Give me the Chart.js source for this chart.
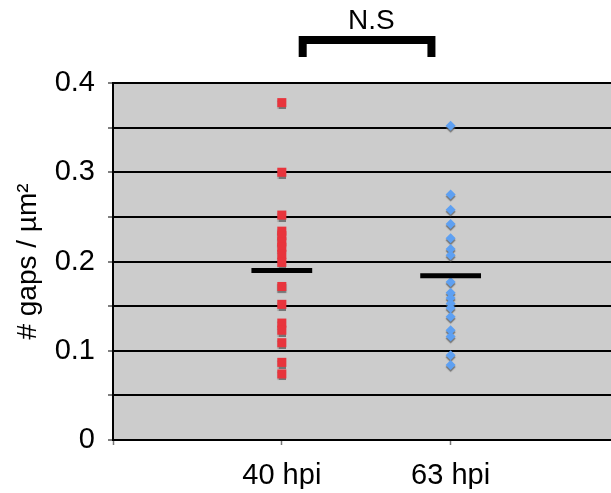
<!DOCTYPE html>
<html>
<head>
<meta charset="utf-8">
<script src="https://cdn.jsdelivr.net/npm/chart.js@4.4.0/dist/chart.umd.min.js"></script>
<style>
  html, body { margin: 0; padding: 0; background: #fff; overflow: hidden; }
  canvas { display: block; }
</style>
</head>
<body>
<canvas id="myChart" width="611" height="493"></canvas>
<script>
// values
const groups = ["40 hpi", "63 hpi"];
const hpi40 = [0.378, 0.300, 0.252, 0.234, 0.229, 0.222, 0.216, 0.208, 0.199,
  0.172, 0.152, 0.131, 0.123, 0.109, 0.087, 0.074];
const hpi63 = [0.352, 0.275, 0.258, 0.242, 0.226, 0.214, 0.207, 0.177, 0.165,
  0.159, 0.153, 0.148, 0.138, 0.123, 0.116, 0.095, 0.084];
const means = [0.190, 0.184];
const yTicks = [0, 0.1, 0.2, 0.3, 0.4];
const sigLabel = "N.S";

const FONT = '"Liberation Sans", Arial, Helvetica, sans-serif';
const MEAN_HALF = 0.18;

const plotBg = {
  id: "plotBg",
  beforeDraw(chart) {
    const { ctx, chartArea: a } = chart;
    ctx.save();
    ctx.fillStyle = "#cccccc";
    ctx.fillRect(a.left, a.top, a.right - a.left, a.bottom - a.top);
    ctx.restore();
  },
};

// grey drop shadow under the markers
const markerShadow = {
  id: "markerShadow",
  beforeDatasetDraw(chart, args) {
    if (!chart.data.datasets[args.index].shadow) return;
    const ctx = chart.ctx;
    ctx.save();
    ctx.shadowColor = "rgba(90,90,90,0.75)";
    ctx.shadowOffsetX = 0;
    ctx.shadowOffsetY = 2;
    ctx.shadowBlur = 1;
  },
  afterDatasetDraw(chart, args) {
    if (!chart.data.datasets[args.index].shadow) return;
    chart.ctx.restore();
  },
};

// significance bracket above the plot
const bracket = {
  id: "bracket",
  afterDraw(chart) {
    const { ctx, chartArea } = chart;
    const x = chart.scales.x;
    const top = chartArea.top;
    const x1 = x.getPixelForValue(1.1);
    const x2 = x.getPixelForValue(1.91);
    ctx.save();
    ctx.strokeStyle = "#000";
    ctx.lineWidth = 8;
    ctx.lineJoin = "miter";
    ctx.lineCap = "butt";
    ctx.beginPath();
    ctx.moveTo(x1 + 4, top - 26);
    ctx.lineTo(x1 + 4, top - 43);
    ctx.lineTo(x2 - 4, top - 43);
    ctx.lineTo(x2 - 4, top - 26);
    ctx.stroke();
    ctx.fillStyle = "#000";
    ctx.font = "28px " + FONT;
    ctx.textAlign = "center";
    ctx.textBaseline = "alphabetic";
    ctx.fillText(sigLabel, x.getPixelForValue(1.53), top - 54.5);
    ctx.restore();
  },
};

const meanLine = (i) => ({
  type: "line",
  data: [
    { x: i + 1 - MEAN_HALF, y: means[i] },
    { x: i + 1 + MEAN_HALF, y: means[i] },
  ],
  borderColor: "#000",
  borderWidth: 5,
  pointRadius: 0,
  order: 0,
});

new Chart(document.getElementById("myChart"), {
  type: "scatter",
  data: {
    datasets: [
      meanLine(0),
      meanLine(1),
      {
        label: groups[0],
        data: hpi40.map((v) => ({ x: 1, y: v })),
        pointStyle: "rect",
        pointRadius: 6.4,
        pointBorderWidth: 0,
        backgroundColor: "#e8343c",
        borderColor: "#e8343c",
        shadow: true,
        order: 1,
      },
      {
        label: groups[1],
        data: hpi63.map((v) => ({ x: 2, y: v })),
        pointStyle: "rectRot",
        pointRadius: 5,
        pointBorderWidth: 0,
        backgroundColor: "#5ea0f2",
        borderColor: "#5ea0f2",
        shadow: true,
        order: 1,
      },
    ],
  },
  options: {
    responsive: false,
    animation: false,
    devicePixelRatio: 1,
    layout: {
      autoPadding: false,
      padding: { top: 83, right: 0, bottom: 4, left: 0 },
    },
    plugins: {
      legend: { display: false },
      tooltip: { enabled: false },
    },
    scales: {
      x: {
        type: "linear",
        min: 0,
        max: 2.95,
        afterBuildTicks: (axis) => {
          axis.ticks = [0, 1, 2].map((v) => ({ value: v }));
        },
        afterFit: (axis) => {
          axis.height = 49;
          axis.paddingLeft = 0;
          axis.paddingRight = 0;
        },
        ticks: {
          callback: (v) => (v >= 1 ? groups[v - 1] : ""),
          color: "#000",
          font: { family: FONT, size: 29 },
          padding: 14,
          maxRotation: 0,
          autoSkip: false,
        },
        grid: {
          drawOnChartArea: false,
          drawTicks: true,
          tickLength: 5,
          tickColor: "#777",
          tickWidth: 1.5,
        },
        border: { color: "#000", width: 2 },
      },
      y: {
        min: 0,
        max: 0.4,
        afterFit: (axis) => {
          axis.width = 113;
        },
        ticks: {
          stepSize: 0.05,
          callback: (v) => {
            const t = yTicks.find((k) => Math.abs(k - v) < 1e-6);
            return t === undefined ? "" : String(t);
          },
          color: "#000",
          font: { family: FONT, size: 29 },
          padding: 13,
        },
        grid: {
          color: "#000",
          lineWidth: 2,
          tickLength: 5,
          tickColor: "#555",
          tickWidth: 1.5,
        },
        border: { color: "#000", width: 2 },
        title: {
          display: true,
          text: "# gaps / µm²",
          color: "#000",
          font: { family: FONT, size: 28 },
          padding: { top: 11, bottom: 0 },
        },
      },
    },
  },
  plugins: [plotBg, markerShadow, bracket],
});
</script>
</body>
</html>
